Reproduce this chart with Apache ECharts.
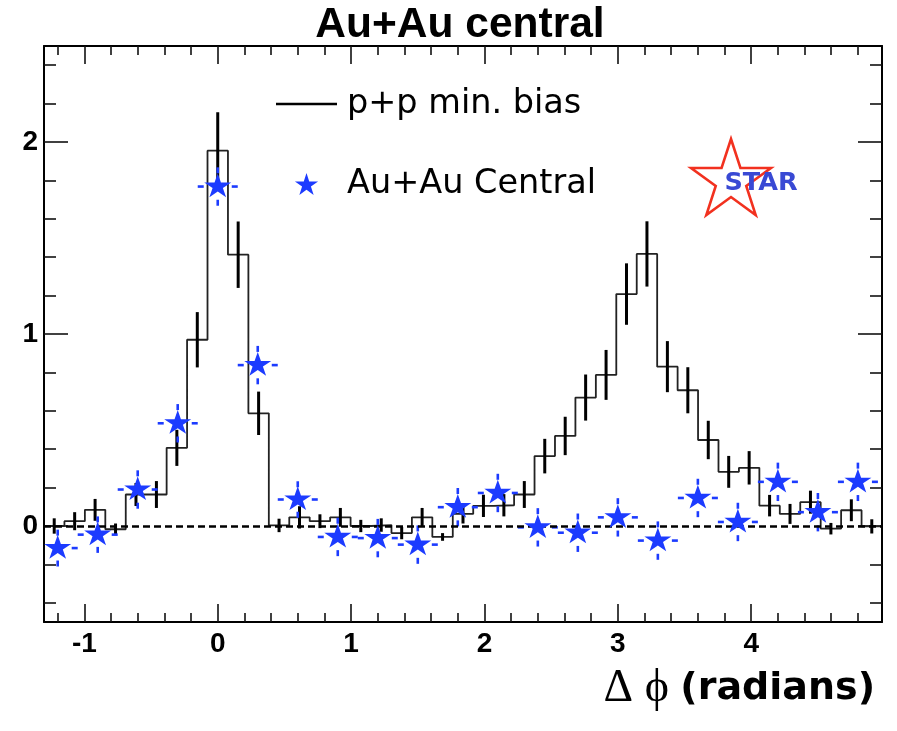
<!DOCTYPE html>
<html><head><meta charset="utf-8">
<script src="https://cdn.jsdelivr.net/npm/echarts@6/dist/echarts.min.js"></script>
<style>html,body{margin:0;padding:0;background:#fff}#c{width:897px;height:731px}</style>
</head><body><div id="c"></div>
<script>
// ---- axis / binning ----
const BIN_COUNT = 41;                    // histogram bins over 2*pi
const BIN_W = 2 * Math.PI / BIN_COUNT;
const X_MIN = -8.5 * BIN_W;              // bin 8 is centred on 0
const X_MAX = X_MIN + 2 * Math.PI;
const Y_MIN = -0.5;
const Y_MAX = 2.5;

// ---- p+p min. bias histogram (41 bins) ----
const ppValues = [0.00, 0.025, 0.084, -0.017, 0.164, 0.164, 0.407, 0.970, 1.955, 1.413,
  0.587, 0.003, 0.045, 0.025, 0.045, 0.000, 0.005, -0.037, 0.045, -0.057,
  0.063, 0.105, 0.108, 0.164, 0.364, 0.469, 0.669, 0.787, 1.208, 1.417,
  0.830, 0.707, 0.448, 0.282, 0.303, 0.106, 0.063, 0.124, -0.014, 0.082, -0.002];
const ppErrors = [0.040, 0.047, 0.057, 0.030, 0.060, 0.070, 0.094, 0.144, 0.200, 0.173,
  0.113, 0.035, 0.058, 0.036, 0.049, 0.032, 0.035, 0.032, 0.049, 0.020,
  0.050, 0.058, 0.058, 0.070, 0.090, 0.100, 0.120, 0.130, 0.160, 0.170,
  0.133, 0.120, 0.100, 0.083, 0.087, 0.056, 0.052, 0.060, 0.030, 0.057, 0.037];

// ---- Au+Au central points ----
const auauX = [-1.2, -0.9, -0.6, -0.3, 0.0, 0.3, 0.6, 0.9, 1.2, 1.5, 1.8,
  2.1, 2.4, 2.7, 3.0, 3.3, 3.6, 3.9, 4.2, 4.5, 4.8];
const auauValues = [-0.115, -0.045, 0.190, 0.535, 1.768, 0.838, 0.138, -0.057, -0.063, -0.097, 0.098,
  0.172, -0.007, -0.035, 0.045, -0.076, 0.146, 0.021, 0.230, 0.072, 0.230];
const auauErrY = [0.096, 0.095, 0.10, 0.10, 0.10, 0.10, 0.095, 0.10, 0.10, 0.10, 0.10,
  0.10, 0.10, 0.10, 0.10, 0.10, 0.10, 0.10, 0.10, 0.10, 0.10];
const auauErrX = [0.15, 0.15, 0.15, 0.15, 0.15, 0.15, 0.15, 0.15, 0.15, 0.15, 0.15,
  0.15, 0.15, 0.15, 0.15, 0.15, 0.15, 0.15, 0.15, 0.15, 0.15];

// ---- ticks ----
const xMajorTicks = [-1, 0, 1, 2, 3, 4];
const xMinorTicks = [-1.2, -0.8, -0.6, -0.4, -0.2, 0.2, 0.4, 0.6, 0.8, 1.2, 1.4, 1.6, 1.8,
  2.2, 2.4, 2.6, 2.8, 3.2, 3.4, 3.6, 3.8, 4.2, 4.4, 4.6, 4.8];
const yMajorTicks = [0, 1, 2];
const yMinorTicks = [-0.4, -0.2, 0.2, 0.4, 0.6, 0.8, 1.2, 1.4, 1.6, 1.8, 2.2, 2.4];

const SERIES_PP = 'p+p min. bias';
const SERIES_AU = 'Au+Au Central';
const TITLE = 'Au+Au central';

// ---- build data for the library ----
const binCenters = ppValues.map((_, k) => X_MIN + (k + 0.5) * BIN_W);
const stepData = ppValues.map((v, k) => [X_MIN + k * BIN_W, v]);
stepData.push([X_MAX, ppValues[ppValues.length - 1]]);
const ppErrData = ppValues.map((v, k) => [binCenters[k], v, ppErrors[k]]);
const auData = auauX.map((x, i) => [x, auauValues[i]]);
const auErrData = auauX.map((x, i) => [x, auauValues[i], auauErrX[i], auauErrY[i]]);

const BLUE = '#1c3bff';
const STAR_PATH = 'path://M50,0L61.23,34.55L97.55,34.55L68.16,55.9L79.39,90.45L50,69.1L20.61,90.45L31.84,55.9L2.45,34.55L38.77,34.55Z';
const LINE_ICON = 'path://M0,0H60V2.5H0Z';

const frame = { show: true, onZero: false, lineStyle: { color: '#000', width: 2 } };
const noLine = { show: false, onZero: false };
function xAx(pos, ticks, len, labels, line) {
  return {
    type: 'value', min: X_MIN, max: X_MAX, position: pos,
    axisLine: line ? frame : noLine,
    axisTick: { show: true, inside: true, length: len, customValues: ticks, lineStyle: { color: '#111', width: 1.6 } },
    axisLabel: labels ? { show: true, customValues: ticks, margin: 8, fontSize: 28, fontWeight: 'bold',
      fontFamily: 'Liberation Sans', color: '#000', formatter: v => String(v) } : { show: false },
    splitLine: { show: false }, minorTick: { show: false }
  };
}
function yAx(pos, ticks, len, labels, line) {
  return {
    type: 'value', min: Y_MIN, max: Y_MAX, position: pos,
    axisLine: line ? frame : noLine,
    axisTick: { show: true, inside: true, length: len, customValues: ticks, lineStyle: { color: '#111', width: 1.6 } },
    axisLabel: labels ? { show: true, customValues: ticks, margin: 6, fontSize: 28, fontWeight: 'bold',
      fontFamily: 'Liberation Sans', color: '#000', formatter: v => String(v) } : { show: false },
    splitLine: { show: false }, minorTick: { show: false }
  };
}

// STAR logo outline (decoration)
const logoC = [731, 181], logoR = 42, logoRi = 42 * 0.382;
const logoPts = [];
for (let i = 0; i < 10; i++) {
  const a = -Math.PI / 2 + i * Math.PI / 5;
  const r = i % 2 === 0 ? logoR : logoRi;
  logoPts.push([logoC[0] + r * Math.cos(a), logoC[1] + r * Math.sin(a)]);
}

const chart = echarts.init(document.getElementById('c'), null, { renderer: 'canvas' });
chart.setOption({
  animation: false,
  backgroundColor: '#fff',
  title: {
    text: TITLE, left: 460, top: 0, textAlign: 'center', padding: [4, 0, 0, 0],
    textStyle: { fontFamily: 'Liberation Sans', fontWeight: 'bold', fontSize: 42.5, color: '#000' }
  },
  grid: { left: 44, right: 15, top: 46, bottom: 109, outerBoundsMode: 'none', containLabel: false },
  xAxis: [
    xAx('bottom', xMajorTicks, 18, true, true),
    xAx('bottom', xMinorTicks, 9, false, false),
    xAx('top', xMajorTicks, 18, false, true),
    xAx('top', xMinorTicks, 9, false, false)
  ],
  yAxis: [
    yAx('left', yMajorTicks, 24, true, true),
    yAx('left', yMinorTicks, 12, false, false),
    yAx('right', yMajorTicks, 24, false, true),
    yAx('right', yMinorTicks, 12, false, false)
  ],
  legend: {
    data: [{ name: SERIES_PP, icon: LINE_ICON }, { name: SERIES_AU }],
    orient: 'vertical', left: 271, top: 79,
    itemWidth: 61, itemHeight: 22, itemGap: 40,
    textStyle: { fontFamily: 'DejaVu Sans', fontSize: 33.5, lineHeight: 40, color: '#000', padding: [0, 0, 0, 5] },
    selectedMode: false
  },
  series: [
    {
      name: SERIES_PP, type: 'line', step: 'end', data: stepData, symbol: 'none',
      lineStyle: { color: '#222', width: 1.8 }, itemStyle: { color: '#000' }, z: 2,
      markLine: {
        silent: true, symbol: 'none', label: { show: false },
        lineStyle: { color: '#000', width: 2.5, type: [7, 4] },
        data: [{ yAxis: 0 }]
      }
    },
    {
      name: 'pp-errors', type: 'custom', data: ppErrData, z: 3, clip: true,
      renderItem: (params, api) => {
        const x = api.value(0), y = api.value(1), e = api.value(2);
        const a = api.coord([x, y + e]), b = api.coord([x, y - e]);
        return { type: 'line', shape: { x1: a[0], y1: a[1], x2: b[0], y2: b[1] },
          style: { stroke: '#000', lineWidth: 3 } };
      }
    },
    {
      name: 'au-errors', type: 'custom', data: auErrData, z: 4, clip: true,
      renderItem: (params, api) => {
        const x = api.value(0), y = api.value(1), ex = api.value(2), ey = api.value(3);
        const L = api.coord([x - ex, y]), R = api.coord([x + ex, y]);
        const T = api.coord([x, y + ey]), B = api.coord([x, y - ey]);
        const d = 6, st = { stroke: BLUE, lineWidth: 2.6 };
        const seg = (x1, y1, x2, y2) => ({ type: 'line', shape: { x1, y1, x2, y2 }, style: st });
        return { type: 'group', children: [
          seg(L[0], L[1], L[0] + d, L[1]), seg(R[0] - d, R[1], R[0], R[1]),
          seg(T[0], T[1], T[0], T[1] + d), seg(B[0], B[1] - d, B[0], B[1])
        ] };
      }
    },
    {
      name: SERIES_AU, type: 'scatter', data: auData, symbol: STAR_PATH,
      symbolSize: [27, 25], symbolKeepAspect: true, symbolOffset: [0, -1.3],
      itemStyle: { color: BLUE, opacity: 1 }, z: 5
    }
  ],
  graphic: [
    {
      type: 'polygon', shape: { points: logoPts }, z: 10,
      style: { fill: 'none', stroke: '#f2311f', lineWidth: 2.6 }
    },
    {
      type: 'text', x: 761, y: 183, z: 11,
      style: { text: 'STAR', fontFamily: 'DejaVu Sans', fontWeight: 'bold', fontSize: 25.5,
        fill: '#3949d4', align: 'center', verticalAlign: 'middle' }
    },
    {
      type: 'text', right: 22, top: 666, z: 10,
      style: {
        text: '{d|Δ ϕ }{b|(radians)}', fill: '#000',
        rich: {
          d: { fontFamily: 'Liberation Serif', fontSize: 46, fill: '#000' },
          b: { fontFamily: 'DejaVu Sans', fontWeight: 'bold', fontSize: 38, fill: '#000' }
        }
      }
    }
  ]
});
</script>
</body></html>
